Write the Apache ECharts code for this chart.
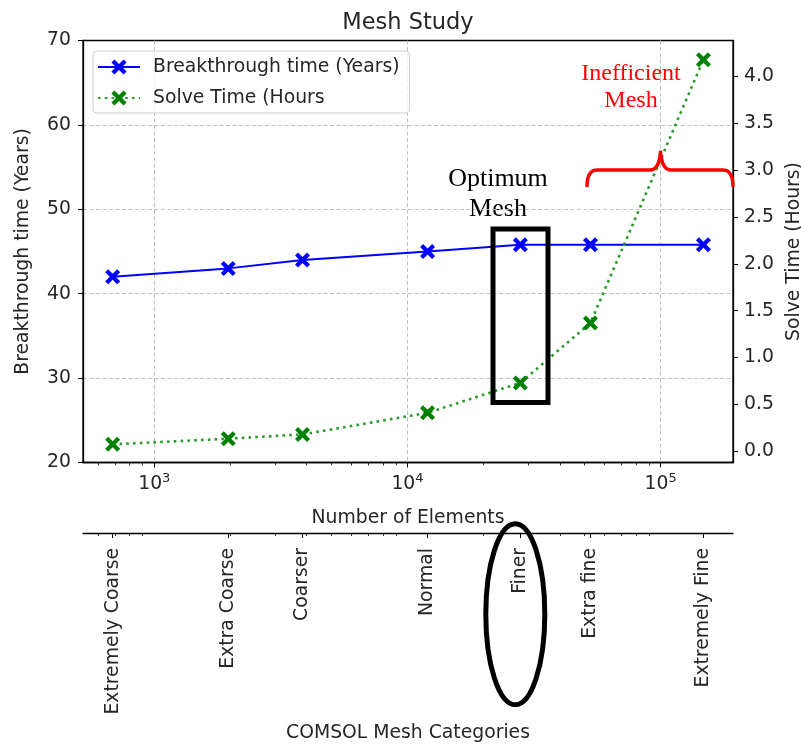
<!DOCTYPE html>
<html>
<head>
<meta charset="utf-8">
<script src="https://cdn.jsdelivr.net/npm/echarts@6/dist/echarts.min.js"></script>
<style>
  html, body { margin: 0; padding: 0; background: #fff; }
  #chart { width: 801px; height: 749px; }
</style>
</head>
<body>
<div id="chart"></div>
<script>
// Mesh convergence data: element counts per COMSOL mesh preset
const elements = [685, 1960, 3850, 12000, 27900, 52800, 147500];
const meshCategories = ['Extremely Coarse', 'Extra Coarse', 'Coarser', 'Normal', 'Finer', 'Extra fine', 'Extremely Fine'];
const breakthroughYears = [42, 43, 44, 45, 45.8, 45.8, 45.8];
const solveHours = [0.074, 0.134, 0.18, 0.41, 0.73, 1.37, 4.18];

// Axis tick values
const decadeTicks = [1000, 10000, 100000];
const minorTicks = [600, 700, 800, 900, 2000, 3000, 4000, 5000, 6000, 7000, 8000, 9000,
  20000, 30000, 40000, 50000, 60000, 70000, 80000, 90000];
const solveTicks = [0, 0.5, 1, 1.5, 2, 2.5, 3, 3.5, 4];

const X_MIN = 523, X_MAX = 193000;
const FONT = 'DejaVu Sans';
const FS = 18.8;
const TXT = '#262626';

// filled "X" marker
const xMarker = 'path://M0,2 L2,0 L5,3 L8,0 L10,2 L7,5 L10,8 L8,10 L5,7 L2,10 L0,8 L3,5 Z';

// curly brace outline built from quadratic segments
function quad(p0, c, p1, n) {
  const pts = [];
  for (let i = 0; i <= n; i++) {
    const t = i / n, u = 1 - t;
    pts.push([u * u * p0[0] + 2 * u * t * c[0] + t * t * p1[0], u * u * p0[1] + 2 * u * t * c[1] + t * t * p1[1]]);
  }
  return pts;
}
const bracePoints = [].concat(
  quad([587, 187], [587, 170], [597, 170], 10),
  quad([650, 170], [659, 170], [660.5, 152], 10),
  quad([660.5, 152], [662, 170], [671, 170], 10),
  quad([723, 170], [733, 170], [733, 187], 10)
);

const chart = echarts.init(document.getElementById('chart'), null, { renderer: 'canvas' });

const gridDash = { color: '#b8b8b8', width: 0.9, type: [4, 2.5] };
const blackLine = { color: '#000', width: 1.3 };

const option = {
  animation: false,
  backgroundColor: '#fff',
  title: {
    text: 'Mesh Study',
    left: 403, top: 7, textAlign: 'center',
    textStyle: { fontFamily: FONT, fontSize: 22.5, fontWeight: 'normal', color: TXT }
  },
  legend: {
    orient: 'vertical',
    left: 93, top: 51,
    padding: [5, 10, 4, 4],
    itemWidth: 42, itemHeight: 19, itemGap: 9,
    borderColor: '#d0d0d0', borderWidth: 1, borderRadius: 4,
    backgroundColor: 'rgba(255,255,255,0.8)',
    textStyle: { fontFamily: FONT, fontSize: FS, lineHeight: 22, color: TXT, padding: [0, 0, 0, 8] },
    data: ['Breakthrough time (Years)', 'Solve Time (Hours']
  },
  grid: [
    { left: 83, top: 40.5, width: 650, height: 422, show: true, borderColor: '#000', borderWidth: 1.3,
      containLabel: false, outerBoundsMode: 'none' },
    { left: 83, top: 521, width: 650, height: 12, show: false, containLabel: false, outerBoundsMode: 'none' }
  ],
  xAxis: [
    {
      // main element-count axis with decade labels and grid
      type: 'log', gridIndex: 0, position: 'bottom', min: X_MIN, max: X_MAX,
      name: 'Number of Elements', nameLocation: 'middle', nameGap: 46,
      nameTextStyle: { fontFamily: FONT, fontSize: FS, color: TXT },
      axisLine: { show: true, onZero: false, lineStyle: blackLine },
      axisTick: { show: true, length: 5, customValues: decadeTicks, lineStyle: { color: '#000', width: 1 } },
      axisLabel: {
        customValues: decadeTicks, margin: 10,
        formatter: v => '{b|10}{s|' + Math.round(Math.log10(v)) + '}',
        rich: {
          b: { fontFamily: FONT, fontSize: FS, color: TXT },
          s: { fontFamily: FONT, fontSize: 13, color: TXT, padding: [0, 0, 11, 0] }
        }
      },
      splitLine: { show: true, lineStyle: gridDash }
    },
    {
      // minor ticks of main axis
      type: 'log', gridIndex: 0, position: 'bottom', min: X_MIN, max: X_MAX,
      axisLine: { show: false, onZero: false },
      axisTick: { show: true, length: 3, customValues: minorTicks, lineStyle: { color: '#000', width: 0.8 } },
      axisLabel: { show: false },
      splitLine: { show: false }
    },
    {
      // mesh category axis below
      type: 'log', gridIndex: 1, position: 'bottom', min: X_MIN, max: X_MAX,
      name: 'COMSOL Mesh Categories', nameLocation: 'middle', nameGap: 191,
      nameTextStyle: { fontFamily: FONT, fontSize: FS, color: TXT },
      axisLine: { show: true, onZero: false, lineStyle: blackLine },
      axisTick: { show: true, length: 5, customValues: elements, lineStyle: { color: '#000', width: 1 } },
      axisLabel: {
        customValues: elements, rotate: 90, margin: 15,
        fontFamily: FONT, fontSize: FS, color: TXT,
        formatter: v => {
          const i = elements.indexOf(v);
          return i >= 0 ? meshCategories[i] : '';
        }
      },
      splitLine: { show: false }
    },
    {
      type: 'log', gridIndex: 1, position: 'bottom', min: X_MIN, max: X_MAX,
      axisLine: { show: false, onZero: false },
      axisTick: { show: true, length: 3, customValues: minorTicks, lineStyle: { color: '#000', width: 0.8 } },
      axisLabel: { show: false },
      splitLine: { show: false }
    }
  ],
  yAxis: [
    {
      type: 'value', gridIndex: 0, position: 'left', min: 20, max: 70, interval: 10,
      name: 'Breakthrough time (Years)', nameLocation: 'middle', nameGap: 50,
      nameTextStyle: { fontFamily: FONT, fontSize: FS, color: TXT },
      axisLine: { show: true, onZero: false, lineStyle: blackLine },
      axisTick: { show: true, length: 5, lineStyle: { color: '#000', width: 1 } },
      axisLabel: { fontFamily: FONT, fontSize: FS, color: TXT, margin: 12 },
      splitLine: { show: true, showMinLine: false, showMaxLine: false, lineStyle: gridDash }
    },
    {
      type: 'value', gridIndex: 0, position: 'right', min: -0.12, max: 4.385,
      name: 'Solve Time (Hours)', nameLocation: 'middle', nameGap: 49,
      nameTextStyle: { fontFamily: FONT, fontSize: FS, color: TXT },
      axisLine: { show: true, onZero: false, lineStyle: blackLine },
      axisTick: { show: true, length: 5, customValues: solveTicks, lineStyle: { color: '#000', width: 1 } },
      axisLabel: {
        customValues: solveTicks, fontFamily: FONT, fontSize: FS, color: TXT, margin: 11,
        formatter: v => v.toFixed(1)
      },
      splitLine: { show: false }
    },
    { type: 'value', gridIndex: 1, min: 0, max: 1, show: false }
  ],
  series: [
    {
      name: 'Breakthrough time (Years)',
      type: 'line', xAxisIndex: 0, yAxisIndex: 0,
      data: elements.map((e, i) => [e, breakthroughYears[i]]),
      symbol: xMarker, symbolSize: 15,
      itemStyle: { color: '#0000ff' },
      lineStyle: { color: '#0000ff', width: 2 },
      z: 3
    },
    {
      name: 'Solve Time (Hours',
      type: 'line', xAxisIndex: 0, yAxisIndex: 1,
      data: elements.map((e, i) => [e, solveHours[i]]),
      symbol: xMarker, symbolSize: 15,
      itemStyle: { color: '#008000' },
      lineStyle: { color: '#2a9a2a', width: 2.6, type: [2.6, 4.2] },
      z: 3
    }
  ],
  graphic: [
    {
      type: 'text', x: 498, y: 194,
      style: {
        text: 'Optimum\nMesh', font: '26px "Liberation Serif"', lineHeight: 30,
        fill: '#000', align: 'center', verticalAlign: 'middle'
      }
    },
    {
      type: 'rect', shape: { x: 493, y: 229, width: 55, height: 173.5 },
      style: { fill: 'none', stroke: '#000', lineWidth: 5 }, z: 10
    },
    {
      type: 'ellipse', shape: { cx: 515.3, cy: 614.3, rx: 29.5, ry: 90.5 },
      style: { fill: 'none', stroke: '#000', lineWidth: 5 }, z: 10
    },
    {
      type: 'text', x: 631, y: 87,
      style: {
        text: 'Inefficient\nMesh', font: '24px "Liberation Serif"', lineHeight: 27,
        fill: '#ff0000', align: 'center', verticalAlign: 'middle'
      }
    },
    {
      type: 'polyline', shape: { points: bracePoints },
      style: { fill: 'none', stroke: '#ff0000', lineWidth: 3.5, lineJoin: 'round' }, z: 10
    }
  ]
};

chart.setOption(option);
</script>
</body>
</html>
